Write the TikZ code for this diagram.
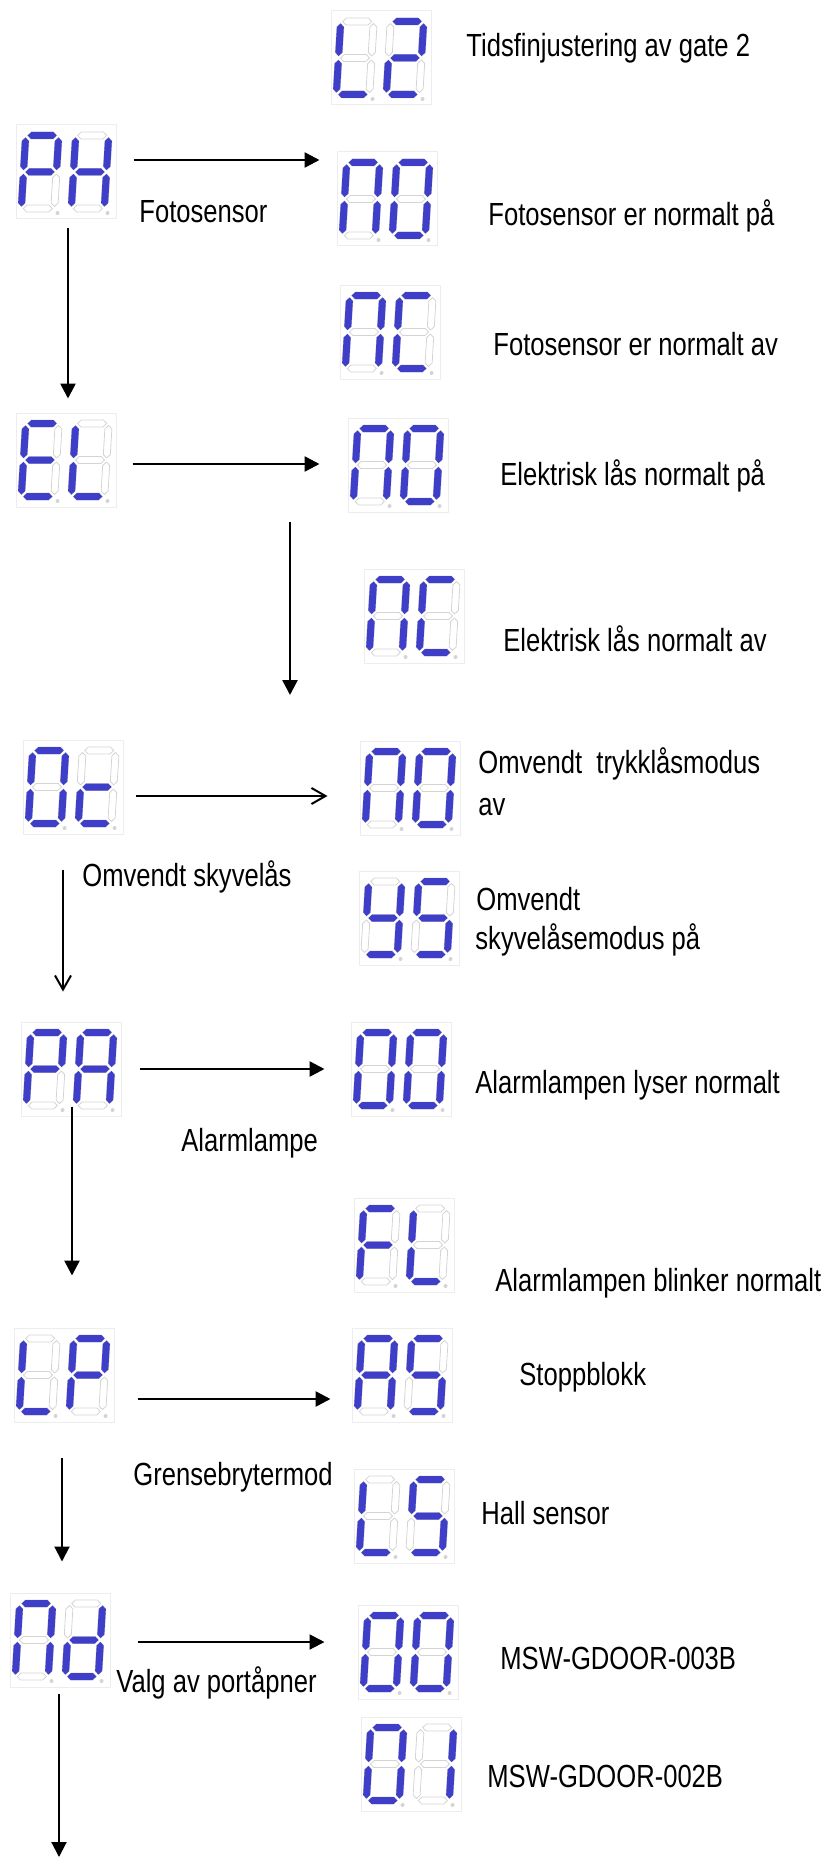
\documentclass[tikz,border=0pt]{standalone}
\usepackage{fontspec}
\setmainfont{Liberation Sans}[FakeStretch=0.8]
\usetikzlibrary{arrows.meta,calc}

\definecolor{segblue}{RGB}{62,62,200}
\definecolor{seggrey}{RGB}{212,212,212}

\tikzset{
  segon/.style={fill=segblue},
  segoff/.style={draw=seggrey, line width=0.4pt},
  lcdbox/.style={draw=black!7, line width=0.5pt, minimum width=50pt, minimum height=47pt, inner sep=0pt},
  txt/.style={anchor=base west, inner sep=0pt, font=\fontsize{16}{19}\selectfont},
  arr/.style={line width=1.3pt, -{Triangle[length=7.5pt,width=7.5pt]}},
  openarr/.style={line width=1pt, -{Straight Barb[length=7pt,width=8pt]}}
}

% one segment, horizontal or vertical
\newcommand{\hseg}[4]{\path[#1] (#2,#4) -- (#2+3.5,#4-3.5) -- (#3-3.5,#4-3.5) -- (#3,#4) -- (#3-3.5,#4+3.5) -- (#2+3.5,#4+3.5) -- cycle;}
\newcommand{\vseg}[4]{\path[#1] (#2,#3) -- (#2+3.5,#3+3.5) -- (#2+3.5,#4-3.5) -- (#2,#4) -- (#2-3.5,#4-3.5) -- (#2-3.5,#3+3.5) -- cycle;}

% the seven segments a..g
\newcommand{\sega}[1]{\hseg{#1}{-14.5}{14.5}{-36.5}}
\newcommand{\segb}[1]{\vseg{#1}{16.5}{-34.5}{-2}}
\newcommand{\segc}[1]{\vseg{#1}{16.5}{2}{34.5}}
\newcommand{\segd}[1]{\hseg{#1}{-14.5}{14.5}{36.5}}
\newcommand{\sege}[1]{\vseg{#1}{-16.5}{2}{34.5}}
\newcommand{\segf}[1]{\vseg{#1}{-16.5}{-34.5}{-2}}
\newcommand{\segg}[1]{\hseg{#1}{-14.5}{14.5}{0}}

% one digit: centre, lit segments
\newcommand{\lcddigit}[2]{%
  \begin{scope}[shift={#1}, xslant=0.06]
    \foreach \s in {a,b,c,d,e,f,g} {\csname seg\s\endcsname{segoff}}
    \foreach \s in {#2} {\csname seg\s\endcsname{segon}}
    \fill[seggrey] (20,41) circle (1pt);
  \end{scope}}

% two-digit display: name, position, left digit, right digit
\newcommand{\lcd}[4]{%
  \node[lcdbox] (#1) at #2 {};
  \lcddigit{($(#1)+(-26,0)$)}{#3}
  \lcddigit{($(#1)+(24,0)$)}{#4}}

\begin{document}
\begin{tikzpicture}[x=0.5pt, y=-0.5pt]
    \useasboundingbox (0,0) rectangle (826,1867);

    % Menu displays (left column)
    \lcd{ph}{(66,172)}{a,b,e,f,g}{b,c,e,f,g}
    \lcd{el}{(66,460)}{a,d,e,f,g}{d,e,f}
    \lcd{oc}{(73,787)}{a,b,c,d,e,f}{d,e,g}
    \lcd{pa}{(71,1069)}{a,b,e,f,g}{a,b,c,e,f,g}
    \lcd{lp}{(64,1375)}{d,e,f}{a,b,e,f,g}
    \lcd{nd}{(60,1640)}{a,b,c,e,f}{b,c,d,e,g}

    % Option displays (right column)
    \lcd{l2}{(381,58)}{d,e,f}{a,b,d,e,g}
    \lcd{no1}{(387,199)}{a,b,c,e,f}{a,b,c,d,e,f}
    \lcd{nc1}{(390,332)}{a,b,c,e,f}{a,d,e,f}
    \lcd{no2}{(398,465)}{a,b,c,e,f}{a,b,c,d,e,f}
    \lcd{nc2}{(414,616)}{a,b,c,e,f}{a,d,e,f}
    \lcd{no3}{(410,788)}{a,b,c,e,f}{a,b,c,d,e,f}
    \lcd{ys}{(409,918)}{b,c,d,f,g}{a,c,d,f,g}
    \lcd{oo1}{(401,1069)}{a,b,c,d,e,f}{a,b,c,d,e,f}
    \lcd{fl}{(404,1245)}{a,e,f,g}{d,e,f}
    \lcd{as}{(402,1375)}{a,b,c,e,f,g}{a,c,d,f,g}
    \lcd{ls}{(404,1516)}{d,e,f}{a,c,d,f,g}
    \lcd{oo2}{(408,1652)}{a,b,c,d,e,f}{a,b,c,d,e,f}
    \lcd{o1}{(411,1764)}{a,b,c,d,e,f}{b,c}

    % Free arrow ends
    \coordinate (dropTop) at (290,522);
    \coordinate (dropEnd) at (290,695);
    \coordinate (ndEnd) at (59,1857);

    % Horizontal arrows
    \draw[arr] ($(ph.east)+(17,-12)$) -- ($(ph.east -| no1.west)+(-17,-12)$);
    \draw[arr] ($(el.east)+(16,4)$) -- ($(el.east -| no2.west)+(-28,4)$);
    \draw[openarr] ($(oc.east)+(12,9)$) -- ($(oc.east -| no3.west)+(-32,9)$);
    \draw[arr] ($(pa.east)+(18,0)$) -- ($(pa.east -| oo1.west)+(-26,0)$);
    \draw[arr] ($(lp.east)+(23,24)$) -- ($(lp.east -| as.west)+(-21,24)$);
    \draw[arr, line width=1pt] ($(nd.east)+(27,2)$) -- ($(nd.east -| oo2.west)+(-33,2)$);

    % Vertical arrows
    \draw[arr] ($(ph.south)+(2,9)$) -- ($(el.north)+(2,-14)$);
    \draw[arr] (dropTop) -- (dropEnd);
    \draw[openarr] ($(oc.south)+(-10,35)$) -- ($(pa.north)+(-8,-30)$);
    \draw[arr] ($(pa.south)+(1,-10)$) -- ($(lp.north)+(8,-52)$);
    \draw[arr, line width=1pt] ($(lp.south)+(-2,35)$) -- ($(nd.north)+(2,-31)$);
    \draw[arr, line width=1pt] ($(nd.south)+(-1,6)$) -- (ndEnd);

    % Menu labels
    \node[txt] (lbph) at (139,223) {Fotosensor};
    \node[txt] (lboc) at (82,886) {Omvendt skyvelås};
    \node[txt] (lbpa) at (181,1151) {Alarmlampe};
    \node[txt] (lblp) at (133,1485) {Grensebrytermod};
    \node[txt] (lbnd) at (116,1692) {Valg av portåpner};

    % Option labels
    \node[txt] (tl2) at (466,57) {Tidsfinjustering av gate 2};
    \node[txt] (tno1) at (488,226) {Fotosensor er normalt på};
    \node[txt] (tnc1) at (493,355) {Fotosensor er normalt av};
    \node[txt] (tno2) at (500,485) {Elektrisk lås normalt på};
    \node[txt] (tnc2) at (503,651) {Elektrisk lås normalt av};
    \node[txt] (tno3a) at (478,773) {Omvendt~ trykklåsmodus};
    \node[txt] (tno3b) at (478,815) {av};
    \node[txt] (tysa) at (476,910) {Omvendt};
    \node[txt] (tysb) at (475,949) {skyvelåsemodus på};
    \node[txt] (too1) at (475,1093) {Alarmlampen lyser normalt};
    \node[txt] (tfl) at (495,1291) {Alarmlampen blinker normalt};
    \node[txt] (tas) at (519,1385) {Stoppblokk};
    \node[txt] (tls) at (481,1524) {Hall sensor};
    \node[txt] (too2) at (500,1669) {MSW-GDOOR-003B};
    \node[txt] (to1) at (487,1787) {MSW-GDOOR-002B};
\end{tikzpicture}
\end{document}
